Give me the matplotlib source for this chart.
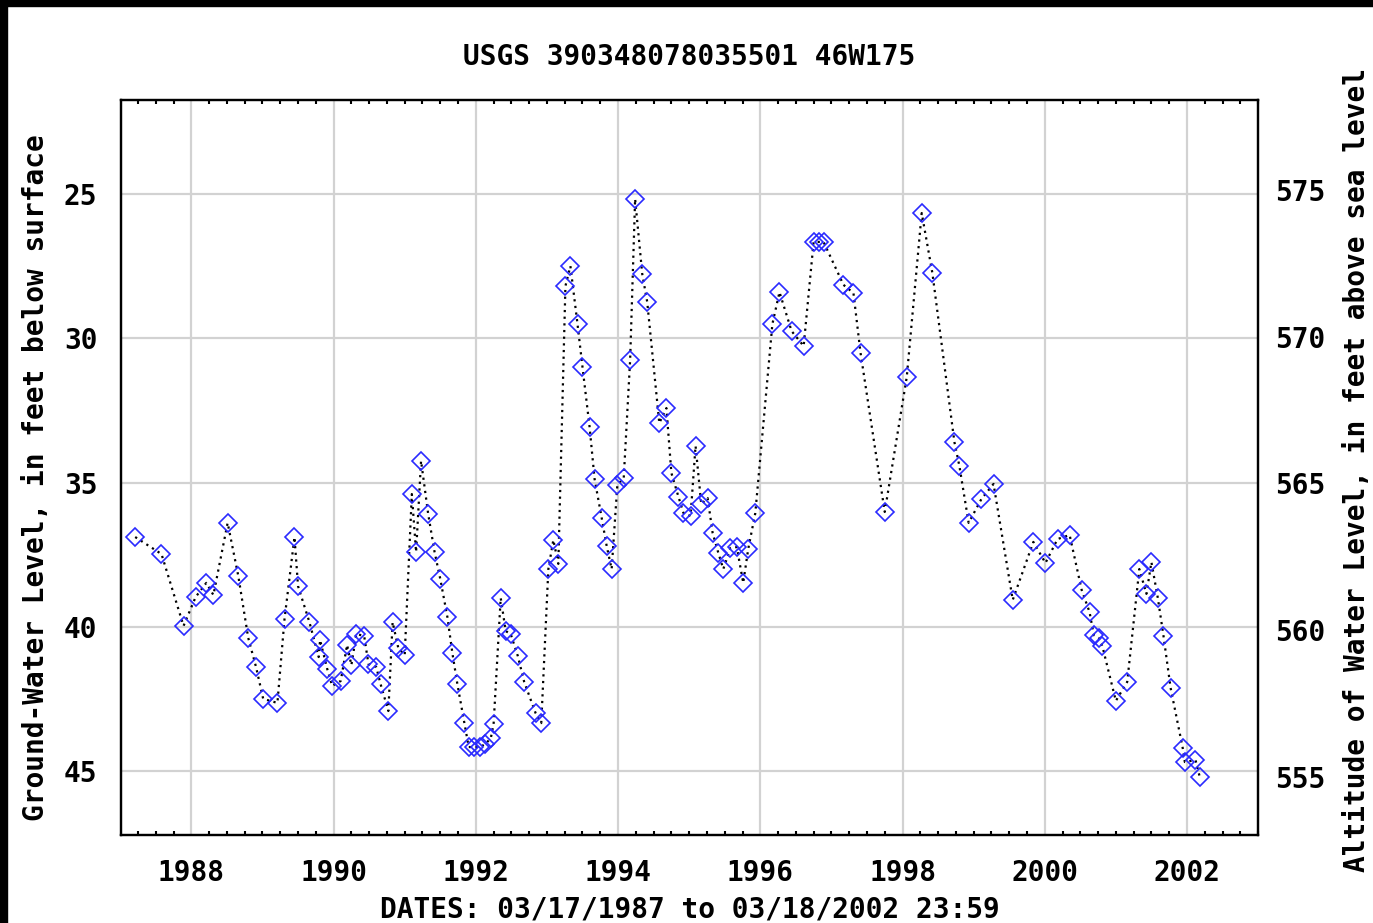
import numpy as np
import matplotlib
matplotlib.use('Agg')
import matplotlib.pyplot as plt
from matplotlib.patches import Rectangle
from matplotlib.ticker import MultipleLocator

# measurement dates (decimal years) and depth to water (ft below surface)
years = [
    1987.21, 1987.58, 1987.89, 1988.06, 1988.21, 1988.31, 1988.51, 1988.66, 1988.80, 1988.91,
    1989.01, 1989.21, 1989.31, 1989.45, 1989.50, 1989.66, 1989.79, 1989.81, 1989.91, 1989.98,
    1990.10, 1990.19, 1990.25, 1990.32, 1990.43, 1990.49, 1990.60, 1990.66, 1990.77, 1990.83,
    1990.91, 1991.00, 1991.10, 1991.16, 1991.23, 1991.33, 1991.42, 1991.50, 1991.60, 1991.67,
    1991.74, 1991.84, 1991.90, 1991.97, 1992.06, 1992.13, 1992.21, 1992.25, 1992.35, 1992.42,
    1992.49, 1992.59, 1992.68, 1992.84, 1992.92, 1993.02, 1993.09, 1993.16, 1993.26, 1993.33,
    1993.43, 1993.50, 1993.60, 1993.67, 1993.77, 1993.84, 1993.91, 1993.99, 1994.08, 1994.17,
    1994.24, 1994.34, 1994.41, 1994.58, 1994.68, 1994.75, 1994.85, 1994.92, 1995.02, 1995.09,
    1995.17, 1995.26, 1995.33, 1995.41, 1995.48, 1995.58, 1995.67, 1995.76, 1995.83, 1995.93,
    1996.17, 1996.27, 1996.44, 1996.61, 1996.75, 1996.82, 1996.89, 1997.17, 1997.31, 1997.41,
    1997.75, 1998.06, 1998.27, 1998.42, 1998.73, 1998.80, 1998.93, 1999.11, 1999.28, 1999.55,
    1999.84, 2000.01, 2000.18, 2000.35, 2000.52, 2000.63, 2000.69, 2000.76, 2000.81, 2001.00,
    2001.16, 2001.33, 2001.43, 2001.50, 2001.59, 2001.67, 2001.77, 2001.94, 2001.97, 2002.12,
    2002.18,
]
depth = [
    36.89, 37.48, 39.97, 38.97, 38.48, 38.90, 36.40, 38.24, 40.39, 41.40,
    42.50, 42.64, 39.73, 36.89, 38.59, 39.84, 41.05, 40.46, 41.46, 42.05,
    41.88, 40.63, 41.33, 40.25, 40.32, 41.29, 41.40, 41.98, 42.92, 39.84,
    40.74, 40.98, 35.40, 37.41, 34.25, 36.09, 37.41, 38.34, 39.66, 40.91,
    41.98, 43.34, 44.17, 44.17, 44.17, 44.07, 43.87, 43.37, 39.00, 40.15,
    40.25, 41.01, 41.91, 42.99, 43.34, 38.00, 36.99, 37.82, 28.19, 27.50,
    29.51, 31.00, 33.08, 34.88, 36.23, 37.20, 38.00, 35.09, 34.84, 30.75,
    25.17, 27.77, 28.74, 32.94, 32.42, 34.67, 35.50, 36.06, 36.16, 33.73,
    35.75, 35.54, 36.75, 37.44, 38.00, 37.27, 37.24, 38.48, 37.31, 36.06,
    29.51, 28.40, 29.75, 30.27, 26.66, 26.66, 26.66, 28.15, 28.43, 30.51,
    36.02, 31.34, 25.66, 27.74, 33.60, 34.43, 36.40, 35.57, 35.05, 39.07,
    37.06, 37.79, 36.96, 36.82, 38.73, 39.49, 40.29, 40.39, 40.67, 42.57,
    41.91, 38.00, 38.86, 37.76, 39.00, 40.32, 42.12, 44.20, 44.69, 44.62,
    45.21,
]

title = 'USGS 390348078035501 46W175'
left_label = 'Ground-Water Level, in feet below surface'
right_label = 'Altitude of Water Level, in feet above sea level'
date_label = 'DATES: 03/17/1987 to 03/18/2002 23:59'

plt.rcParams['font.family'] = 'DejaVu Sans Mono'
plt.rcParams['font.weight'] = 'bold'
fs = 20

fig = plt.figure(figsize=(13.73, 9.23), dpi=100)
ax = fig.add_axes([0.0881, 0.0953, 0.8282, 0.7964])

ax.plot(years, depth, color='black', linestyle=(0, (1, 2)), linewidth=1.6, zorder=2)
ax.plot(years, depth, linestyle='none', marker='D', markersize=9,
        markerfacecolor='none', markeredgecolor='#2a2aff', markeredgewidth=1.2, zorder=3)

ax.set_xlim(1987.01, 2003.0)
ax.set_ylim(47.22, 21.74)
ax.xaxis.set_major_locator(MultipleLocator(2))
ax.xaxis.set_minor_locator(MultipleLocator(0.25))
ax.set_yticks([25, 30, 35, 40, 45])
ax.grid(True, which='major', color='#d2d2d2', linewidth=1.6)
ax.set_axisbelow(True)
ax.tick_params(axis='x', which='minor', direction='in', length=3, width=1.5,
               top=True, bottom=True)
ax.tick_params(axis='x', which='major', length=0, pad=17, labelsize=fs)
ax.tick_params(axis='y', which='both', length=0, pad=17, labelsize=fs)
for s in ax.spines.values():
    s.set_linewidth(1.6)

ax.set_title(title, fontsize=fs, fontweight='bold', pad=25)
ax.set_xlabel(date_label, fontsize=fs, fontweight='bold')
ax.xaxis.set_label_coords(0.5, -0.082)
ax.set_ylabel(left_label, fontsize=fs, fontweight='bold')
ax.yaxis.set_label_coords(-0.0624, 0.486)

ax2 = ax.twinx()
ax2.set_ylim(553.02, 578.07)
ax2.set_yticks([555, 560, 565, 570, 575])
ax2.tick_params(axis='y', length=0, pad=12, labelsize=fs)
ax2.set_ylabel(right_label, fontsize=fs, fontweight='bold')
ax2.yaxis.set_label_coords(1.0748, 0.497)
for s in ax2.spines.values():
    s.set_linewidth(1.6)

# black frame bits at top and left edges
fig.add_artist(Rectangle((0, 1 - 6 / 923), 1, 6 / 923, transform=fig.transFigure,
                         color='black', zorder=10))
fig.add_artist(Rectangle((0, 0), 7 / 1373, 1, transform=fig.transFigure,
                         color='black', zorder=10))

fig.savefig('out.png', dpi=100)
